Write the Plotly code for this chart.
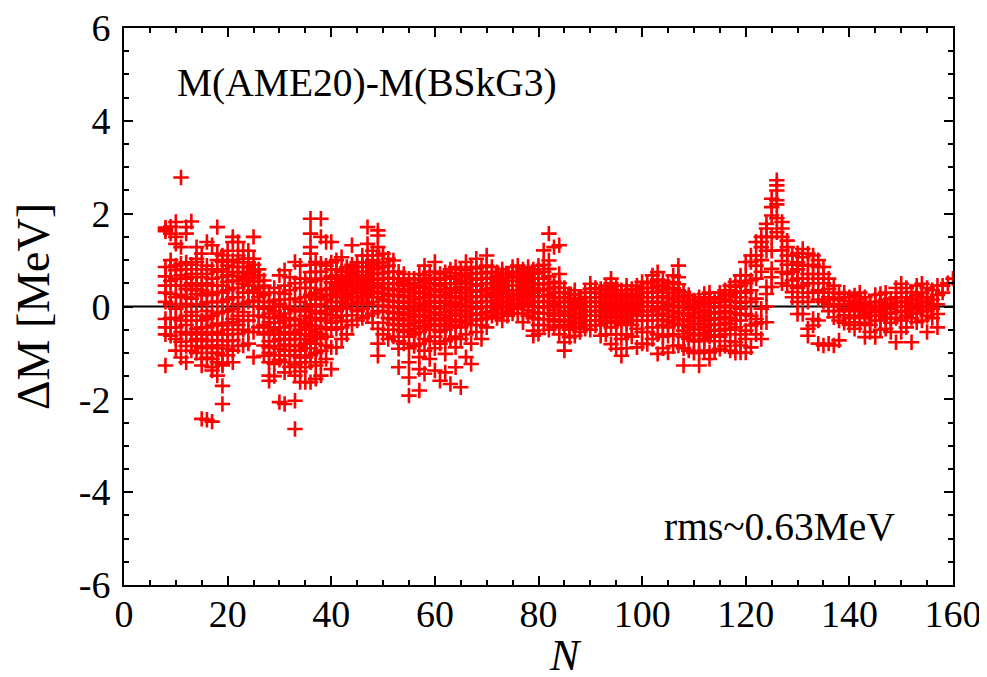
import plotly.graph_objects as go

# ---- data: (N, [Delta M values in MeV]) ----
SEG_LIGHT = [
    (8, [1.70, 1.66, 1.62, 0.85, 0.65, 0.45, 0.30, 0.10, -0.27, -0.45, -0.60, -1.27]),
    (9, [1.72, 1.57, 1.00, 0.85, 0.55, 0.27, 0.05, -0.25, -0.45, -0.63]),
    (10, [1.82, 1.50, 1.35, 0.88, 0.78, 0.60, 0.45, 0.20, -0.05, -0.25, -0.45, -0.70, -0.95]),
    (11, [2.78, 1.28, 0.92, 0.80, 0.67, 0.45, 0.25, 0.00, -0.30, -0.55, -0.76, -1.10]),
    (12, [1.71, 1.57, 0.95, 0.80, 0.60, 0.45, 0.38, 0.20, 0.06, -0.20, -0.40, -0.60, -0.85, -1.20]),
    (13, [1.83, 0.90, 0.70, 0.63, 0.50, 0.35, 0.17, -0.12, -0.30, -0.55, -0.75, -0.95]),
    (14, [1.28, 1.03, 0.96, 0.70, 0.49, 0.38, 0.27, 0.05, -0.20, -0.48, -0.60, -0.70, -0.85, -1.00]),
    (15, [1.14, 0.80, 0.63, 0.45, 0.35, 0.24, 0.05, -0.30, -0.45, -0.55, -0.70, -0.90, -1.13, -1.27, -2.42]),
    (16, [1.39, 0.88, 0.70, 0.50, 0.30, 0.09, -0.10, -0.23, -0.27, -0.45, -0.60, -0.75, -0.88, -1.10, -2.44]),
    (17, [1.32, 0.80, 0.60, 0.45, 0.25, 0.10, -0.20, -0.41, -0.60, -0.84, -1.00, -1.13, -1.31, -1.38, -2.48]),
    (18, [1.71, 1.14, 1.00, 0.75, 0.45, 0.31, 0.10, -0.15, -0.37, -0.55, -0.73, -0.90, -1.00, -1.20, -1.49]),
    (19, [1.10, 0.96, 0.80, 0.63, 0.45, 0.30, 0.10, -0.12, -0.41, -0.60, -0.84, -1.05, -1.24, -1.27, -1.71, -2.10]),
    (20, [1.20, 1.00, 0.88, 0.67, 0.53, 0.35, 0.15, -0.10, -0.35, -0.50, -0.60, -0.75, -0.91, -1.05]),
    (21, [1.50, 1.39, 1.00, 0.85, 0.74, 0.56, 0.40, 0.20, -0.05, -0.27, -0.34, -0.50, -0.73, -0.95, -1.20]),
    (22, [1.39, 1.10, 0.95, 0.85, 0.74, 0.65, 0.55, 0.40, 0.20, 0.05, -0.20, -0.40, -0.59, -0.85]),
    (23, [1.20, 1.03, 0.85, 0.74, 0.65, 0.60, 0.49, 0.30, 0.06, -0.12, -0.30, -0.50, -0.84]),
    (24, [1.20, 1.03, 0.95, 0.85, 0.70, 0.62, 0.56, 0.45, 0.30, 0.10, -0.30, -0.55, -0.80]),
    (25, [1.50, 1.03, 0.90, 0.80, 0.74, 0.62, 0.53, 0.35, 0.13, -0.20, -0.55, -1.09]),
    (26, [0.80, 0.67, 0.55, 0.40, 0.30, 0.20, 0.00, -0.20, -0.45]),
    (27, [0.56, 0.45, 0.25, 0.10, -0.05, -0.23, -0.40, -0.60, -0.84, -1.06]),
    (28, [0.30, 0.09, -0.05, -0.15, -0.34, -0.45, -0.55, -0.75, -0.88, -1.00, -1.20, -1.49, -1.60]),
    (29, [0.40, 0.13, 0.00, -0.10, -0.25, -0.35, -0.50, -0.60, -0.75, -0.85, -1.05, -1.24, -1.50]),
    (30, [0.67, 0.30, 0.15, 0.06, -0.20, -0.35, -0.45, -0.60, -0.70, -0.91, -1.05, -1.15, -2.06]),
    (31, [0.78, 0.45, 0.27, 0.00, -0.15, -0.30, -0.45, -0.55, -0.70, -0.82, -0.95, -1.20, -1.42, -2.10]),
    (32, [0.63, 0.35, 0.15, -0.05, -0.25, -0.41, -0.60, -0.72, -0.85, -0.95, -1.06, -1.30]),
    (33, [0.96, 0.50, 0.17, -0.10, -0.27, -0.40, -0.55, -0.70, -0.84, -0.95, -1.05, -1.25, -1.49, -2.03, -2.64]),
    (34, [0.88, 0.60, 0.40, 0.10, -0.10, -0.30, -0.50, -0.60, -0.70, -0.85, -0.95, -1.10, -1.20, -1.40, -1.63]),
    (35, [0.60, 0.40, 0.20, -0.05, -0.20, -0.35, -0.45, -0.60, -0.70, -0.80, -0.90, -1.10, -1.31, -1.63]),
    (36, [1.89, 1.57, 1.28, 1.14, 0.90, 0.74, 0.53, 0.40, 0.25, 0.05, -0.10, -0.25, -0.40, -0.50,
          -0.63, -0.75, -0.90, -1.05, -1.20, -1.63]),
    (37, [0.96, 0.75, 0.56, 0.30, 0.15, 0.00, -0.15, -0.30, -0.42, -0.55, -0.68, -0.80, -1.00, -1.27, -1.56]),
    (38, [1.89, 1.50, 0.92, 0.75, 0.60, 0.35, 0.20, 0.05, -0.10, -0.25, -0.48, -0.60, -0.70, -0.95, -1.20, -1.49]),
    (39, [1.39, 0.88, 0.60, 0.38, 0.25, 0.15, -0.15, -0.30, -0.45, -0.65, -0.84, -1.13]),
    (40, [1.39, 0.95, 0.80, 0.65, 0.52, 0.40, 0.25, 0.10, -0.05, -0.19, -0.35, -0.50, -0.88, -1.35]),
]

SEG_MEDIUM = [
    (41, [1.00, 0.80, 0.68, 0.60, 0.50, 0.45, 0.35, 0.30, 0.20, 0.10, 0.00, -0.10, -0.25, -0.48, -0.88]),
    (42, [1.06, 0.75, 0.65, 0.55, 0.48, 0.40, 0.30, 0.20, 0.10, 0.00, -0.20, -0.32, -0.45, -0.70]),
    (43, [0.85, 0.75, 0.65, 0.58, 0.50, 0.42, 0.35, 0.25, 0.15, 0.05, -0.05, -0.30, -0.60]),
    (44, [1.32, 0.90, 0.80, 0.70, 0.62, 0.55, 0.45, 0.35, 0.28, 0.20, 0.05, -0.19, -0.40]),
    (45, [0.95, 0.85, 0.75, 0.68, 0.60, 0.52, 0.45, 0.38, 0.30, 0.20, 0.10, -0.10, -0.30]),
    (46, [1.10, 0.95, 0.85, 0.75, 0.65, 0.58, 0.50, 0.40, 0.30, 0.22, 0.15, -0.05, -0.25]),
    (47, [1.71, 1.35, 1.10, 0.95, 0.85, 0.75, 0.65, 0.55, 0.45, 0.35, 0.25, 0.05, -0.20]),
    (48, [1.20, 1.00, 0.90, 0.80, 0.70, 0.60, 0.50, 0.40, 0.30, 0.20, 0.10, -0.15, -0.35]),
    (49, [1.64, 1.53, 1.28, 1.10, 0.95, 0.82, 0.70, 0.58, 0.45, 0.32, 0.20, -0.10, -0.48, -0.80, -1.06]),
    (50, [1.14, 0.95, 0.85, 0.72, 0.60, 0.50, 0.40, 0.28, 0.15, 0.02, -0.10, -0.35, -0.60]),
    (51, [1.03, 0.88, 0.75, 0.62, 0.50, 0.38, 0.25, 0.12, 0.00, -0.12, -0.25, -0.50, -0.70]),
    (52, [0.99, 0.75, 0.60, 0.48, 0.35, 0.22, 0.10, -0.02, -0.15, -0.28, -0.40, -0.65]),
    (53, [0.75, 0.60, 0.50, 0.38, 0.25, 0.12, 0.00, -0.12, -0.25, -0.38, -0.50, -0.75, -0.91, -1.31]),
    (54, [0.70, 0.55, 0.45, 0.32, 0.20, 0.08, -0.05, -0.18, -0.30, -0.42, -0.55, -0.80]),
    (55, [0.60, 0.48, 0.35, 0.22, 0.10, -0.02, -0.15, -0.28, -0.40, -0.52, -0.65, -0.90, -1.20, -1.53, -1.92]),
    (56, [0.60, 0.50, 0.40, 0.28, 0.15, 0.02, -0.10, -0.22, -0.35, -0.48, -0.60, -0.85]),
    (57, [0.70, 0.58, 0.45, 0.32, 0.20, 0.08, -0.05, -0.18, -0.30, -0.42, -0.55, -0.80, -1.09, -1.35, -1.81]),
    (58, [0.88, 0.68, 0.55, 0.42, 0.30, 0.18, 0.05, -0.08, -0.20, -0.32, -0.45, -0.70, -0.95, -1.45]),
    (59, [0.75, 0.62, 0.50, 0.38, 0.25, 0.12, 0.00, -0.12, -0.25, -0.38, -0.50, -0.75, -1.13]),
    (60, [0.96, 0.75, 0.60, 0.48, 0.35, 0.22, 0.10, -0.02, -0.15, -0.28, -0.40, -0.65, -0.90, -1.38]),
    (61, [0.70, 0.58, 0.45, 0.32, 0.20, 0.08, -0.05, -0.18, -0.30, -0.42, -0.55, -0.80, -1.60]),
    (62, [0.74, 0.62, 0.50, 0.38, 0.25, 0.12, 0.00, -0.12, -0.25, -0.38, -0.50, -0.75, -1.02, -1.42]),
    (63, [0.80, 0.65, 0.50, 0.40, 0.30, 0.18, 0.05, -0.08, -0.20, -0.32, -0.45, -0.70, -1.67]),
    (64, [0.85, 0.72, 0.60, 0.48, 0.35, 0.22, 0.10, -0.02, -0.15, -0.28, -0.40, -0.65, -0.88, -1.31]),
    (65, [0.80, 0.68, 0.55, 0.42, 0.30, 0.18, 0.05, -0.08, -0.20, -0.32, -0.45, -0.70, -1.74]),
    (66, [0.96, 0.78, 0.65, 0.52, 0.40, 0.28, 0.15, 0.02, -0.10, -0.22, -0.35, -0.60, -1.09]),
    (67, [0.85, 0.72, 0.60, 0.48, 0.35, 0.22, 0.10, -0.02, -0.15, -0.28, -0.40, -0.80, -1.24]),
    (68, [1.03, 0.82, 0.70, 0.58, 0.45, 0.32, 0.20, 0.08, -0.05, -0.18, -0.30, -0.55]),
    (69, [0.85, 0.72, 0.60, 0.48, 0.35, 0.22, 0.10, -0.02, -0.15, -0.28, -0.40, -0.70]),
    (70, [1.10, 0.88, 0.75, 0.62, 0.50, 0.38, 0.25, 0.12, 0.00, -0.12, -0.25, -0.45]),
    (71, [0.85, 0.72, 0.60, 0.50, 0.40, 0.30, 0.20, 0.10, 0.00, -0.10, -0.20]),
    (72, [0.74, 0.65, 0.55, 0.45, 0.35, 0.25, 0.15, 0.05, -0.05, -0.15, -0.25]),
    (73, [0.80, 0.70, 0.60, 0.50, 0.40, 0.30, 0.20, 0.10, 0.00, -0.15, -0.30]),
    (74, [0.70, 0.62, 0.55, 0.45, 0.35, 0.28, 0.20, 0.10, 0.00, -0.10, -0.20]),
    (75, [0.85, 0.75, 0.65, 0.55, 0.45, 0.35, 0.25, 0.15, 0.05, -0.05, -0.15]),
    (76, [0.88, 0.75, 0.65, 0.55, 0.45, 0.35, 0.25, 0.15, 0.05, -0.05, -0.15]),
    (77, [0.80, 0.70, 0.60, 0.50, 0.40, 0.30, 0.20, 0.10, 0.00, -0.15, -0.34]),
    (78, [0.85, 0.75, 0.65, 0.55, 0.45, 0.35, 0.25, 0.15, 0.05, -0.08, -0.20]),
    (79, [0.80, 0.70, 0.60, 0.50, 0.40, 0.30, 0.20, 0.10, 0.00, -0.12, -0.25, -0.52, -0.63]),
    (80, [0.88, 0.72, 0.60, 0.48, 0.35, 0.22, 0.10, -0.02, -0.15, -0.28, -0.40, -0.59]),
]

SEG_HEAVY = [
    (81, [1.21, 0.90, 0.75, 0.60, 0.48, 0.35, 0.22, 0.10, -0.02, -0.15, -0.40]),
    (82, [1.57, 0.99, 0.81, 0.65, 0.50, 0.38, 0.25, 0.12, 0.00, -0.14, -0.27, -0.50]),
    (83, [1.28, 0.53, 0.42, 0.30, 0.18, 0.05, -0.08, -0.20, -0.32, -0.45]),
    (84, [1.32, 0.70, 0.50, 0.31, 0.20, 0.10, -0.02, -0.15, -0.28, -0.40, -0.60]),
    (85, [0.40, 0.30, 0.20, 0.10, 0.00, -0.10, -0.20, -0.32, -0.45, -0.77, -0.95]),
    (86, [0.27, 0.18, 0.10, 0.00, -0.10, -0.20, -0.30, -0.40, -0.50, -0.66]),
    (87, [0.35, 0.25, 0.15, 0.05, -0.05, -0.15, -0.25, -0.35, -0.45, -0.63]),
    (88, [0.17, 0.10, 0.05, -0.05, -0.15, -0.25, -0.35, -0.45, -0.55]),
    (89, [0.30, 0.20, 0.10, 0.00, -0.10, -0.20, -0.30, -0.40, -0.48]),
    (90, [0.49, 0.38, 0.30, 0.20, 0.10, 0.00, -0.10, -0.20, -0.30, -0.50]),
    (91, [0.40, 0.30, 0.20, 0.10, 0.00, -0.10, -0.20, -0.30, -0.41]),
    (92, [0.38, 0.28, 0.20, 0.10, 0.00, -0.10, -0.20, -0.30, -0.40, -0.63]),
    (93, [0.45, 0.35, 0.25, 0.15, 0.05, -0.05, -0.15, -0.25, -0.35, -0.60]),
    (94, [0.60, 0.50, 0.40, 0.30, 0.20, 0.10, 0.00, -0.10, -0.20, -0.32, -0.45, -0.81]),
    (95, [0.45, 0.35, 0.25, 0.15, 0.05, -0.05, -0.15, -0.25, -0.35, -0.60, -0.91]),
    (96, [0.35, 0.28, 0.20, 0.10, 0.00, -0.10, -0.20, -0.30, -0.40, -0.70, -1.06]),
    (97, [0.45, 0.35, 0.25, 0.15, 0.05, -0.05, -0.15, -0.25, -0.35, -0.60, -0.90]),
    (98, [0.38, 0.28, 0.20, 0.10, 0.00, -0.10, -0.20, -0.30, -0.40, -0.65]),
    (99, [0.45, 0.35, 0.25, 0.15, 0.05, -0.05, -0.15, -0.30, -0.48, -0.88]),
    (100, [0.53, 0.40, 0.30, 0.20, 0.10, 0.00, -0.10, -0.20, -0.30, -0.55, -0.80]),
    (101, [0.50, 0.40, 0.30, 0.20, 0.10, 0.00, -0.10, -0.20, -0.30, -0.55, -0.81]),
    (102, [0.67, 0.52, 0.40, 0.30, 0.20, 0.10, 0.00, -0.10, -0.20, -0.45, -0.70]),
    (103, [0.74, 0.58, 0.45, 0.32, 0.20, 0.08, -0.05, -0.18, -0.30, -0.60, -1.02]),
    (104, [0.56, 0.45, 0.35, 0.22, 0.10, -0.02, -0.15, -0.28, -0.40, -0.65, -0.90]),
    (105, [0.50, 0.40, 0.30, 0.18, 0.05, -0.08, -0.20, -0.32, -0.45, -0.63, -0.99]),
    (106, [0.67, 0.52, 0.40, 0.28, 0.15, 0.02, -0.10, -0.22, -0.35, -0.60, -0.85]),
    (107, [0.88, 0.63, 0.48, 0.35, 0.22, 0.10, -0.02, -0.15, -0.28, -0.40, -0.84]),
    (108, [0.31, 0.20, 0.10, -0.02, -0.15, -0.28, -0.40, -0.52, -0.65, -0.90, -1.27]),
    (109, [0.25, 0.15, 0.05, -0.08, -0.20, -0.32, -0.45, -0.58, -0.70, -0.95]),
    (110, [0.13, 0.05, -0.05, -0.15, -0.25, -0.38, -0.50, -0.62, -0.75, -1.00]),
    (111, [0.20, 0.10, 0.00, -0.12, -0.25, -0.38, -0.50, -0.62, -0.75, -1.00, -1.27]),
    (112, [0.27, 0.15, 0.05, -0.08, -0.20, -0.32, -0.45, -0.58, -0.70, -0.95]),
    (113, [0.30, 0.20, 0.10, -0.02, -0.15, -0.28, -0.40, -0.52, -0.65, -0.99, -1.13]),
    (114, [0.17, 0.08, 0.00, -0.12, -0.25, -0.38, -0.50, -0.62, -0.75, -0.95]),
    (115, [0.30, 0.20, 0.10, -0.02, -0.15, -0.28, -0.40, -0.52, -0.65, -0.91]),
    (116, [0.35, 0.25, 0.15, 0.02, -0.10, -0.22, -0.35, -0.48, -0.60, -0.85]),
    (117, [0.45, 0.35, 0.25, 0.12, 0.00, -0.12, -0.25, -0.38, -0.50, -0.75, -0.95]),
    (118, [0.53, 0.42, 0.30, 0.20, 0.10, -0.02, -0.15, -0.30, -0.45, -0.77, -1.00]),
    (119, [0.67, 0.55, 0.45, 0.32, 0.20, 0.08, -0.05, -0.18, -0.30, -0.60, -0.84, -0.99]),
]

SEG_SUPERHEAVY = [
    (120, [0.96, 0.67, 0.50, 0.30, 0.10, -0.16, -0.52, -0.70, -0.99]),
    (121, [1.10, 0.96, 0.56, 0.35, 0.10, -0.20, -0.41, -0.88]),
    (122, [1.39, 1.10, 0.88, 0.60, 0.17, -0.27, -0.37, -0.60]),
    (123, [1.50, 1.39, 1.28, 1.00, 0.75, -0.05, -0.34, -0.70]),
    (124, [1.78, 1.68, 1.50, 1.20, 0.42, 0.27, 0.00, -0.34]),
    (125, [2.32, 2.14, 1.96, 1.50, 1.20, 0.81, 0.63, 0.42]),
    (126, [2.72, 2.61, 2.50, 2.29, 2.20, 1.90, 1.60]),
    (127, [1.82, 1.68, 1.50, 1.21, 0.98, 0.74, 0.50]),
    (128, [1.42, 1.28, 1.10, 0.90, 0.70, 0.45]),
    (129, [1.10, 0.90, 0.75, 0.56, 0.31, 0.20]),
    (130, [1.15, 0.95, 0.80, 0.60, 0.40, 0.10, -0.16]),
    (131, [1.24, 1.06, 0.88, 0.60, 0.45, 0.20, -0.16]),
    (132, [1.14, 0.88, 0.70, 0.50, 0.30, 0.10, -0.48, -0.63]),
    (133, [1.10, 0.90, 0.70, 0.50, 0.30, -0.27, -0.41]),
    (134, [1.00, 0.85, 0.60, 0.35, 0.15, -0.30, -0.80]),
    (135, [0.85, 0.70, 0.50, 0.30, 0.10, -0.84]),
    (136, [0.60, 0.38, 0.20, 0.05, -0.10, -0.80]),
    (137, [0.45, 0.30, 0.15, 0.00, -0.23, -0.84]),
    (138, [0.27, 0.17, 0.05, -0.10, -0.30, -0.73]),
    (139, [0.30, 0.20, 0.12, 0.05, -0.05, -0.19, -0.35]),
    (140, [0.20, 0.12, 0.05, -0.05, -0.10, -0.25, -0.40]),
    (141, [0.24, 0.10, 0.02, -0.05, -0.20, -0.34, -0.48]),
    (142, [0.30, 0.15, 0.08, 0.00, -0.10, -0.20, -0.40]),
    (143, [0.20, 0.05, -0.05, -0.15, -0.25, -0.35, -0.66]),
    (144, [0.09, 0.02, -0.05, -0.12, -0.20, -0.40, -0.55]),
    (145, [0.25, 0.10, 0.00, -0.10, -0.20, -0.30, -0.66]),
    (146, [0.27, 0.10, 0.00, -0.10, -0.20, -0.30, -0.50]),
    (147, [0.30, 0.15, 0.05, -0.05, -0.15, -0.25, -0.48]),
    (148, [0.17, 0.05, -0.05, -0.15, -0.25, -0.35, -0.55]),
    (149, [0.40, 0.20, 0.10, 0.00, -0.12, -0.25, -0.77]),
    (150, [0.49, 0.30, 0.20, 0.10, -0.10, -0.30, -0.55]),
    (151, [0.40, 0.20, 0.10, 0.00, -0.10, -0.20, -0.45]),
    (152, [0.31, 0.15, 0.05, -0.05, -0.15, -0.25, -0.77]),
    (153, [0.45, 0.25, 0.15, 0.05, -0.05, -0.15, -0.34]),
    (154, [0.49, 0.30, 0.20, 0.10, 0.00, -0.10, -0.30]),
    (155, [0.40, 0.20, 0.10, 0.00, -0.10, -0.20, -0.55]),
    (156, [0.35, 0.15, 0.05, -0.05, -0.25]),
    (157, [0.45, 0.25, 0.05, -0.16, -0.45]),
    (158, [0.45, 0.30]),
    (159, [0.50]),
    (160, [0.60]),
]

X_TICKS = [0, 20, 40, 60, 80, 100, 120, 140, 160]
Y_TICKS = [-6, -4, -2, 0, 2, 4, 6]
Y_TICK_TEXT = ["-6", "-4", "-2", "0", "2", "4", "6"]

xs, ys = [], []
for seg in (SEG_LIGHT, SEG_MEDIUM, SEG_HEAVY, SEG_SUPERHEAVY):
    for n, vals in seg:
        for v in vals:
            xs.append(n)
            ys.append(v)

FONT = "Liberation Serif"

fig = go.Figure()
fig.add_trace(go.Scatter(
    x=xs, y=ys, mode="markers",
    marker=dict(symbol="cross-thin", size=11, color="#ff0000",
                line=dict(color="#ff0000", width=2.6)),
    showlegend=False, hoverinfo="skip",
))

axis_common = dict(
    showgrid=False, showline=True, linecolor="black", linewidth=2,
    mirror="allticks", ticks="inside", ticklen=9, tickwidth=2, tickcolor="black",
    tickfont=dict(family=FONT, size=38, color="black"),
    ticklabeloverflow="allow",
    zeroline=False, automargin=False,
)

# the page body adds an 8px offset, so the figure is sized to fit inside the window
fig.update_layout(
    width=979, height=669,
    margin=dict(l=116, r=34, t=20, b=92, autoexpand=False),
    paper_bgcolor="white", plot_bgcolor="white",
    font=dict(family=FONT, color="black"),
    xaxis=dict(
        range=[0, 160], tickvals=X_TICKS,
        minor=dict(dtick=5, ticks="inside", ticklen=5, tickwidth=2, tickcolor="black"),
        ticklabelstandoff=-6,
        **axis_common,
    ),
    yaxis=dict(
        range=[-6, 6], tickvals=Y_TICKS, ticktext=Y_TICK_TEXT,
        minor=dict(dtick=0.5, ticks="inside", ticklen=5, tickwidth=2, tickcolor="black"),
        ticklabelstandoff=4,
        title=dict(text="ΔM [MeV]", font=dict(family=FONT, size=46), standoff=18),
        **axis_common,
    ),
    shapes=[dict(type="line", xref="paper", x0=0, x1=1, yref="y", y0=0, y1=0,
                 line=dict(color="black", width=2), layer="below")],
    annotations=[
        dict(text="<i>N</i>", xref="paper", yref="paper",
             x=0.532, y=-0.126, xanchor="center", yanchor="middle",
             showarrow=False, font=dict(family=FONT, size=44, color="black")),
        dict(text="M(AME20)-M(BSkG3)", xref="paper", yref="paper",
             x=0.0615, y=0.902, xanchor="left", yanchor="middle",
             showarrow=False, font=dict(family=FONT, size=39.5, color="black")),
        dict(text="rms~0.63MeV", xref="paper", yref="paper",
             x=0.9325, y=0.104, xanchor="right", yanchor="middle",
             showarrow=False, font=dict(family=FONT, size=39.5, color="black")),
    ],
)

fig.write_html("out.html")
